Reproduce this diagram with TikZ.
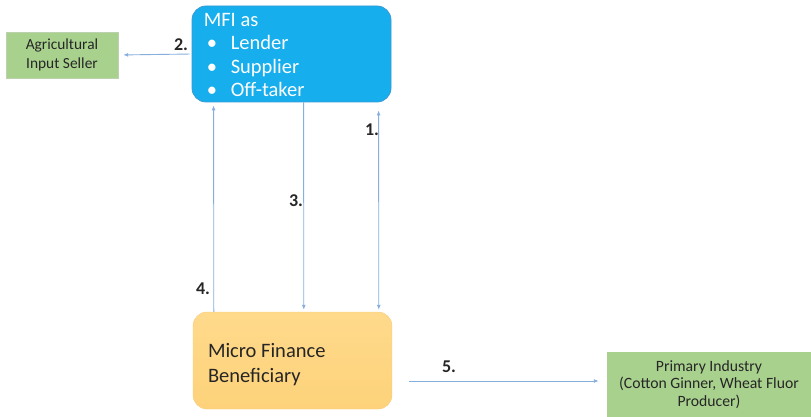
\documentclass[tikz,border=0pt]{standalone}
\usepackage{fontspec}
\setmainfont{Carlito}
\usetikzlibrary{calc,arrows.meta}
\definecolor{mfiblue}{HTML}{16AEEC}
\definecolor{mfiedge}{HTML}{3A9AD8}
\definecolor{benefill}{HTML}{FDD27A}
\definecolor{benetop}{HTML}{FFDA8C}
\definecolor{benedge}{HTML}{F7CB78}
\definecolor{agrgreen}{HTML}{A9D18E}
\definecolor{flowline}{HTML}{86AEDE}
\definecolor{numtext}{HTML}{262626}
\tikzset{box/.style={rectangle, inner sep=0pt},
  flow/.style={draw=flowline, line width=0.9pt, -{Latex[length=5pt,width=4pt]}},
  num/.style={text=numtext, font=\fontsize{18}{18}\selectfont\bfseries}}
\newcommand{\bitem}[1]{\hspace*{3pt}\makebox[24pt][l]{\textbullet}#1}

\begin{document}
\begin{tikzpicture}[x=1pt,y=-1pt]
  \useasboundingbox (0,0) rectangle (811,417);
  % boxes
  \node at (291.5, 54) [box, fill=mfiblue, draw=mfiedge, line width=0.8pt, rounded corners=14pt,
    minimum width=199pt, minimum height=96pt] (mfi) {};
  \node at ($ (mfi.north west) + (12, 91) $) [anchor=base west, inner sep=0pt, align=left, text=white,
    font=\fontsize{20.5}{23.5}\selectfont] (mfitext) {MFI as\\\bitem{Lender}\\\bitem{Supplier}\\\bitem{Off-taker}};
  \node at (62, 55) [box, fill=agrgreen, draw=agrgreen!85!black!60, line width=0.4pt,
    minimum width=112pt, minimum height=46pt, align=center, text=numtext,
    font=\fontsize{15.4}{19}\selectfont] (agri) {Agricultural\\Input Seller};
  \node at (292.5, 360.5) [box, top color=benetop, bottom color=benefill, draw=benedge,
    rounded corners=14pt, minimum width=199pt, minimum height=97pt] (benef) {};
  \node at ($ (benef.north west) + (15, 71) $) [anchor=base west, inner sep=0pt, align=left, text=numtext,
    font=\fontsize{20.5}{25}\selectfont] (beneftext) {Micro Finance\\Beneficiary};
  \node at (709, 384.5) [box, fill=agrgreen, minimum width=204pt, minimum height=65pt,
    align=center, text=numtext, font=\fontsize{15.7}{17.5}\selectfont] (ind)
    {Primary Industry\\(Cotton Ginner, Wheat Fluor\\Producer)};

  % connectors
  \draw[flow, shorten >=5pt, shorten <=2pt] (mfi.west) -- (agri.east);
  \draw[flow, shorten >=3pt] ([xshift=21pt]benef.north west) -- ([xshift=22pt]mfi.south west);
  \draw[flow, shorten >=2pt] ([xshift=112pt]mfi.south west) -- ([xshift=111pt]benef.north west);
  \draw[flow, {Latex[length=5pt,width=4pt]}-{Latex[length=5pt,width=4pt]}, shorten <=2pt, shorten >=8pt]
    ([xshift=186pt]benef.north west) -- ([xshift=187pt]mfi.south west);
  \coordinate (s5) at ($ (benef.east) + (17, 20.5) $);
  \draw[flow, shorten >=8pt] (s5) -- (s5 -| ind.west);

  % step numbers
  \node at (181, 45) [num] (n2) {2.};
  \node at (372, 130) [num] (n1) {1.};
  \node at (296, 201) [num] (n3) {3.};
  \node at (203, 289) [num] (n4) {4.};
  \node at (449, 367) [num] (n5) {5.};
\end{tikzpicture}
\end{document}
